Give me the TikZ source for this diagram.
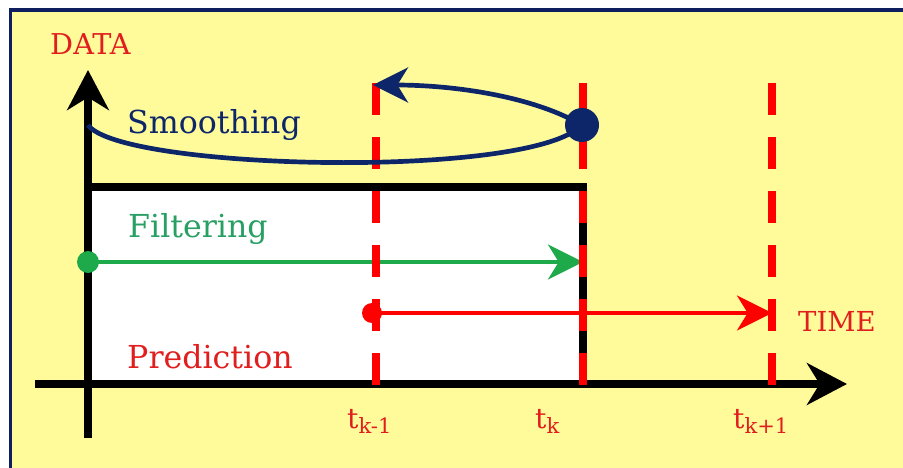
\documentclass[tikz,border=0pt]{standalone}
\usepackage{fontspec}
\setmainfont{DejaVu Serif}
\usepackage{xcolor}
\usetikzlibrary{arrows.meta,positioning}
\definecolor{bgyellow}{RGB}{255,251,155}
\definecolor{framenavy}{RGB}{15,30,95}
\definecolor{smoothnavy}{RGB}{12,38,105}
\definecolor{filtgreen}{RGB}{30,170,75}
\definecolor{filttext}{RGB}{40,160,100}
\definecolor{timered}{RGB}{255,0,0}
\definecolor{labelred}{RGB}{225,30,30}
\newcommand{\tsub}[1]{t\raisebox{-4.5pt}{\fontsize{18pt}{20pt}\selectfont #1}}

\begin{document}
\begin{tikzpicture}[x=0.3mm,y=-0.3mm,
  axis/.style={line width=6.8pt,-{Stealth[length=12mm,width=12.5mm,inset=3.8mm]}},
  tick/.style={timered,line width=6.8pt,dash pattern=on 9.6mm off 6.6mm},
  flow/.style={line width=3.6pt,-{Stealth[length=10.5mm,width=10.5mm,inset=3.2mm]}},
  dot/.style={circle,fill,inner sep=0pt},
  lbl/.style={inner sep=0pt,anchor=base west,font=\fontsize{27pt}{30pt}\selectfont},
  tlbl/.style={inner sep=0pt,anchor=base west,text=labelred,font=\fontsize{24pt}{27pt}\selectfont}]
\useasboundingbox (0,0) rectangle (903,468);
\fill[white] (0,0) rectangle (903,468);
\fill[bgyellow] (10,10) rectangle (903,468);
\draw[framenavy,line width=2.6pt] (10.5,468) -- (10.5,10) -- (903,10);
% window of past data
\draw[fill=white,line width=6.8pt] (88,187) rectangle (583,384);
% axes
\coordinate (ybot) at (88,438);
\coordinate (ytop) at (88,70);
\coordinate (xleft) at (35,384);
\coordinate (xright) at (847,384);
\draw[axis] (ybot) -- (ytop);
\draw[axis] (xleft) -- (xright);
\node[lbl,text=labelred,font=\fontsize{24.5pt}{28pt}\selectfont] (data) at (50,54) {DATA};
% time instants
\coordinate (kmtop) at (376,83);  \coordinate (kmbot) at (376,386);
\coordinate (ktop) at (583,83);   \coordinate (kbot) at (583,386);
\coordinate (kptop) at (772,83);  \coordinate (kpbot) at (772,386);
% filtering
\node[dot,fill=filtgreen,minimum size=6.6mm] (fstart) at (88,262) {};
\coordinate (fend) at (583,262);
\draw[flow,filtgreen] (fstart.center) -- (fend);
\node[lbl,text=filttext] (filtering) at (128,237) {Filtering};
% prediction
\node[dot,fill=timered,minimum size=6mm] (pstart) at (372,313) {};
\coordinate (pend) at (772,313);
\draw[flow,timered,line width=3.3pt] (pstart.center) -- (pend);
\node[lbl,text=labelred] (prediction) at (127,368) {Prediction};
\node[lbl,text=labelred,font=\fontsize{23.5pt}{27pt}\selectfont] (time) at (798,331) {TIME};
\draw[tick] (kmtop) -- (kmbot);
\draw[tick] (ktop) -- (kbot);
\draw[tick] (kptop) -- (kpbot);
\node[tlbl] (tkm) at (347,428) {\tsub{k-1}};
\node[tlbl] (tk) at (535,428) {\tsub{k}};
\node[tlbl] (tkp) at (733,428) {\tsub{k+1}};
% smoothing
\coordinate (sstart) at (88,125);
\coordinate (sdot) at (582,125);
\coordinate (send) at (373,85);
\draw[flow,smoothnavy,line width=4pt] (sstart) .. controls (120,170) and (530,180) .. (sdot)
  .. controls (530,95) and (450,85) .. (send);
\node[dot,fill=smoothnavy,minimum size=10.2mm] (snow) at (sdot) {};
\node[lbl,text=smoothnavy] (smoothing) at (127,133) {Smoothing};
\end{tikzpicture}
\end{document}
